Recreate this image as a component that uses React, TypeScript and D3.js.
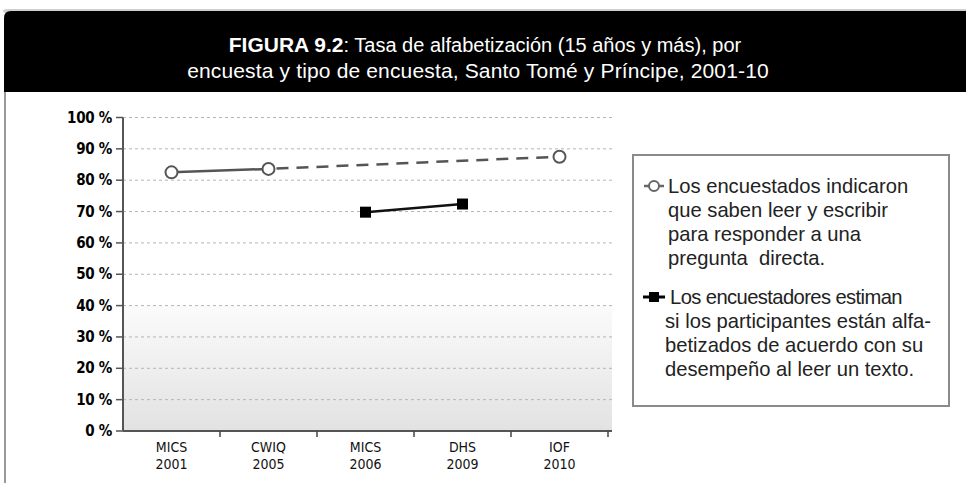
import React from 'react';
import * as d3 from 'd3';

const surveys = ['MICS', 'CWIQ', 'MICS', 'DHS', 'IOF'];
const years = ['2001', '2005', '2006', '2009', '2010'];
// literacy rate, % (null = survey did not measure it this way)
const selfReported = [82.5, 83.6, null, null, 87.5];
const assessed = [null, null, 69.8, 72.4, null];
const yTicks = [0, 10, 20, 30, 40, 50, 60, 70, 80, 90, 100];

const titleBold = 'FIGURA 9.2';
const titleRest = ': Tasa de alfabetización (15 años y más), por';
const titleLine2 = 'encuesta y tipo de encuesta, Santo Tomé y Príncipe, 2001-10';
const legendSelf = ['Los encuestados indicaron', 'que saben leer y escribir', 'para responder a una', 'pregunta  directa.'];
const legendAssessed = ['Los encuestadores estiman', 'si los participantes están alfa-', 'betizados de acuerdo con su', 'desempeño al leer un texto.'];

const W = 966, H = 483;
const left = 123, right = 608, top = 117.5, bottom = 431;

export default function App() {
  const keys = surveys.map((s, i) => s + ' ' + years[i]);
  const x = d3.scaleBand().domain(keys).range([left, right]);
  const y = d3.scaleLinear().domain([0, 100]).range([bottom, top]);
  const cx = (i) => x(keys[i]) + x.bandwidth() / 2;

  const line = d3.line().x(d => cx(d[0])).y(d => y(d[1]));
  const selfPts = selfReported.map((v, i) => [i, v]).filter(d => d[1] != null);
  const assessedPts = assessed.map((v, i) => [i, v]).filter(d => d[1] != null);
  const solidPart = selfPts.slice(0, 2);
  const dashedPart = selfPts.slice(1);

  const condensed = '"DejaVu Sans Condensed", "DejaVu Sans", sans-serif';
  const arial = '"Liberation Sans", Arial, sans-serif';

  return (
    <svg width={W} height={H} style={{ position: 'absolute', left: 0, top: 0, background: '#fff' }}>
      <defs>
        <linearGradient id="floor" x1="0" y1="0" x2="0" y2="1">
          <stop offset="0" stopColor="#fbfbfb" />
          <stop offset="1" stopColor="#e2e2e2" />
        </linearGradient>
      </defs>

      {/* header band */}
      <rect x={3} y={9} width={W} height={4} fill="#d0d0d0" rx={4} />
      <path d={`M4,${92} V18 Q4,11 11,11 H${W} V92 Z`} fill="#000" />
      <text x={485} y={52} textAnchor="middle" fill="#fff" fontFamily={arial} fontSize={20}>
        <tspan fontWeight="bold" fontSize={21}>{titleBold}</tspan>{titleRest}
      </text>
      <text x={478} y={78} textAnchor="middle" fill="#fff" fontFamily={arial} fontSize={21} letterSpacing={0.15}>{titleLine2}</text>
      <line x1={5} x2={5} y1={92} y2={H} stroke="#9a9a9a" strokeWidth={2} />

      {/* plot background */}
      <rect x={left} y={y(40)} width={right - left + 4} height={y(0) - y(40)} fill="url(#floor)" />

      {yTicks.map(t => (
        <g key={t}>
          <line x1={left} x2={right + 4} y1={y(t)} y2={y(t)} stroke="#b5b5b5" strokeWidth={1} strokeDasharray="3,3" />
          <line x1={left - 7} x2={left} y1={y(t)} y2={y(t)} stroke="#555" strokeWidth={1.5} />
          <text x={left - 11} y={y(t) + 5} textAnchor="end" fontFamily={condensed} fontWeight="bold"
            fontSize={15} letterSpacing={-0.3} fill="#000">{t + ' %'}</text>
        </g>
      ))}

      <line x1={left} x2={left} y1={top} y2={bottom} stroke="#555" strokeWidth={2} />
      <line x1={left} x2={right + 4} y1={bottom} y2={bottom} stroke="#555" strokeWidth={2} />
      {keys.map((k, i) => (
        <line key={k} x1={x(k) + x.bandwidth()} x2={x(k) + x.bandwidth()} y1={bottom} y2={bottom + 6}
          stroke="#444" strokeWidth={1.5} />
      ))}
      {keys.map((k, i) => (
        <text key={k} x={cx(i)} y={452} textAnchor="middle" fontFamily={condensed} fontSize={14} fill="#111">
          <tspan x={cx(i)} dy={0}>{surveys[i]}</tspan>
          <tspan x={cx(i)} dy={16.5}>{years[i]}</tspan>
        </text>
      ))}

      {/* self-reported series */}
      <path d={line(solidPart)} fill="none" stroke="#555" strokeWidth={2.5} />
      <path d={line(dashedPart)} fill="none" stroke="#555" strokeWidth={2.5} strokeDasharray="12,8" strokeDashoffset={-8} />
      {selfPts.map(d => (
        <circle key={d[0]} cx={cx(d[0])} cy={y(d[1])} r={6} fill="#fff" stroke="#555" strokeWidth={2} />
      ))}

      {/* assessed series */}
      <path d={line(assessedPts)} fill="none" stroke="#111" strokeWidth={2.5} />
      {assessedPts.map(d => (
        <rect key={d[0]} x={cx(d[0]) - 5.5} y={y(d[1]) - 5.5} width={11} height={11} fill="#000" />
      ))}

      {/* legend */}
      <rect x={633} y={155} width={316} height={251} fill="#fff" stroke="#8a8a8a" strokeWidth={2} />
      <line x1={644} x2={664} y1={186} y2={186} stroke="#666" strokeWidth={2.5} />
      <circle cx={654} cy={186} r={5} fill="#fff" stroke="#666" strokeWidth={2} />
      {legendSelf.map((t, i) => (
        <text key={t} x={668} y={193 + i * 24} fontFamily={arial} fontSize={20.2} fill="#222" xmlSpace="preserve">{t}</text>
      ))}
      <line x1={643} x2={665} y1={297} y2={297} stroke="#000" strokeWidth={3} />
      <rect x={649} y={292} width={10} height={10} fill="#000" />
      {legendAssessed.map((t, i) => (
        <text key={t} x={i === 0 ? 670 : 665} y={304 + i * 24} fontFamily={arial} fontSize={20.2} fill="#222"
          letterSpacing={i === 0 ? -0.6 : 0}>{t}</text>
      ))}
    </svg>
  );
}
